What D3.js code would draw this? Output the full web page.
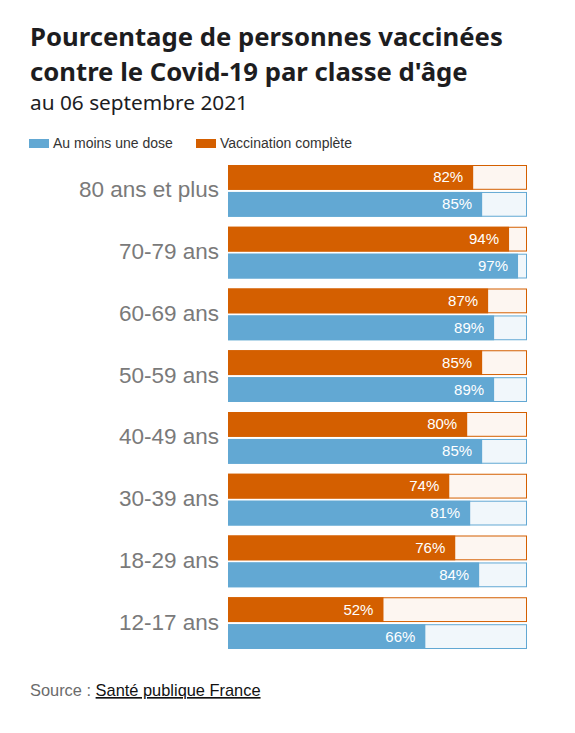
<!DOCTYPE html>
<html><head><meta charset="utf-8">
<script src="https://cdn.jsdelivr.net/npm/d3@7"></script>
<style>body{margin:0;background:#fff;}</style>
</head><body>
<svg id="chart" width="575" height="733"></svg>
<script>
const categories = ["80 ans et plus","70-79 ans","60-69 ans","50-59 ans","40-49 ans","30-39 ans","18-29 ans","12-17 ans"];
const complete = [82,94,87,85,80,74,76,52];
const oneDose = [85,97,89,89,85,81,84,66];
const seriesNames = ["Au moins une dose","Vaccination complète"];
const colors = {blue:"#62a8d3", orange:"#d45f00", blueBg:"#f1f7fb", orangeBg:"#fdf6f1"};

const svg = d3.select("#chart");
svg.append("text").attr("x",30).attr("y",46).attr("font-family","Noto Sans").attr("font-weight","bold")
  .attr("font-size",25.7).attr("fill","#1d1d1f").text("Pourcentage de personnes vaccinées");
svg.append("text").attr("x",30).attr("y",81).attr("font-family","Noto Sans").attr("font-weight","bold")
  .attr("font-size",25.7).attr("fill","#1d1d1f").text("contre le Covid-19 par classe d'âge");
svg.append("text").attr("x",30).attr("y",110).attr("font-family","Noto Sans")
  .attr("font-size",20.8).attr("fill","#1d1d1f").text("au 06 septembre 2021");

// legend
const leg = [{n:seriesNames[0],c:colors.blue,x:29},{n:seriesNames[1],c:colors.orange,x:196}];
leg.forEach(l=>{
  svg.append("rect").attr("x",l.x).attr("y",139).attr("width",20).attr("height",9).attr("fill",l.c);
  svg.append("text").attr("x",l.x+24).attr("y",148).attr("font-family","Liberation Sans, Arial")
    .attr("font-size",14).attr("fill","#333").text(l.n);
});

const x = d3.scaleLinear().domain([0,100]).range([228,527]);
const y = d3.scaleBand().domain(categories).range([165,649]).paddingInner(0.162).paddingOuter(0);
const bh = y.bandwidth();
const sub = d3.scaleBand().domain(["complete","dose"]).range([0,bh]).paddingInner(0.08);

const g = svg.append("g");
categories.forEach((c,i)=>{
  const y0 = y(c);
  const rows = [{k:"complete",v:complete[i],c:colors.orange,bg:colors.orangeBg},
                {k:"dose",v:oneDose[i],c:colors.blue,bg:colors.blueBg}];
  rows.forEach(r=>{
    const yy = y0 + sub(r.k);
    g.append("rect").attr("x",x(0)+0.5).attr("y",yy+0.5).attr("width",x(100)-x(0)-1).attr("height",sub.bandwidth()-1)
      .attr("fill",r.bg).attr("stroke",r.c).attr("stroke-width",1);
    g.append("rect").attr("x",x(0)).attr("y",yy).attr("width",x(r.v)-x(0)).attr("height",sub.bandwidth()).attr("fill",r.c);
    g.append("text").attr("x",x(r.v)-10).attr("y",yy+sub.bandwidth()/2+5).attr("text-anchor","end")
      .attr("font-family","Liberation Sans, Arial").attr("font-size",15).attr("fill","#fff").text(r.v+"%");
  });
  g.append("text").attr("x",219).attr("y",y0+bh/2+6.5).attr("text-anchor","end")
    .attr("font-family","Liberation Sans, Arial").attr("font-size",22.5).attr("fill","#7a7a7a").text(c);
});

// source
const src = svg.append("text").attr("x",30).attr("y",696).attr("font-family","Liberation Sans, Arial").attr("font-size",16.4);
src.append("tspan").attr("fill","#6b6b6b").text("Source : ");
src.append("tspan").attr("fill","#111").attr("text-decoration","underline").text("Santé publique France");
</script>
</body></html>
